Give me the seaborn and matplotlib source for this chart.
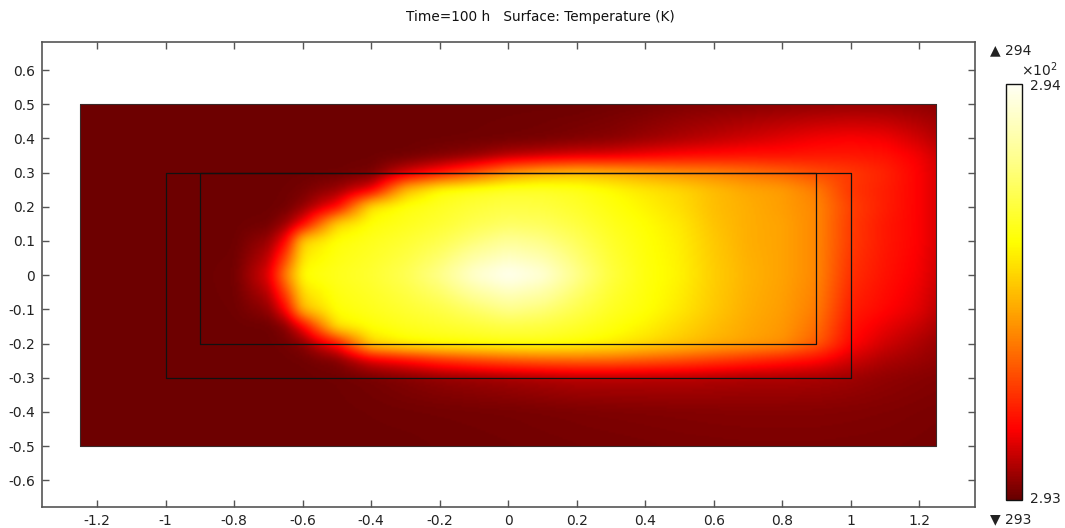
import numpy as np
import matplotlib
matplotlib.use("Agg")
import matplotlib.pyplot as plt
from matplotlib.colors import LinearSegmentedColormap
import seaborn as sns

# Mesh nodes (m)
x_nodes = [-1.25, -1.2, -1.1, -1.0, -0.9, -0.8, -0.7, -0.65, -0.6, -0.5, -0.4, -0.3, -0.2, -0.1,
           0.0, 0.1, 0.2, 0.3, 0.4, 0.5, 0.6, 0.7, 0.8, 0.9, 1.0, 1.1, 1.2, 1.25]
y_nodes = [-0.5, -0.4, -0.3, -0.25, -0.2, -0.15, -0.1, 0.0, 0.1, 0.15, 0.2, 0.25, 0.3, 0.35, 0.4, 0.5]

# Temperature rise above 293 K at each node (K), one row per y node
dT = [
    # y = -0.5
    [0.01, 0.01, 0.01, 0.01, 0.01, 0.01, 0.01, 0.01, 0.01, 0.01, 0.01, 0.01, 0.012, 0.013,
     0.015, 0.017, 0.019, 0.02, 0.022, 0.024, 0.025, 0.026, 0.026, 0.026, 0.025, 0.024, 0.022, 0.02],
    # y = -0.4
    [0.01, 0.01, 0.01, 0.01, 0.01, 0.01, 0.01, 0.01, 0.01, 0.01, 0.012, 0.014, 0.016, 0.018,
     0.02, 0.023, 0.026, 0.029, 0.031, 0.033, 0.035, 0.036, 0.036, 0.036, 0.034, 0.031, 0.027, 0.025],
    # y = -0.3
    [0.01, 0.01, 0.01, 0.01, 0.01, 0.01, 0.01, 0.01, 0.01, 0.012, 0.02, 0.035, 0.05, 0.06,
     0.07, 0.08, 0.09, 0.09, 0.09, 0.09, 0.085, 0.08, 0.08, 0.075, 0.065, 0.05, 0.04, 0.035],
    # y = -0.25
    [0.01, 0.01, 0.01, 0.01, 0.01, 0.01, 0.01, 0.01, 0.012, 0.03, 0.13, 0.18, 0.24, 0.28,
     0.31, 0.33, 0.34, 0.34, 0.32, 0.30, 0.27, 0.24, 0.21, 0.18, 0.12, 0.08, 0.06, 0.05],
    # y = -0.2
    [0.01, 0.01, 0.01, 0.01, 0.01, 0.01, 0.01, 0.015, 0.04, 0.2, 0.55, 0.61, 0.63, 0.64,
     0.65, 0.65, 0.63, 0.6, 0.56, 0.52, 0.48, 0.45, 0.42, 0.33, 0.18, 0.12, 0.08, 0.06],
    # y = -0.15
    [0.01, 0.01, 0.01, 0.01, 0.01, 0.01, 0.01, 0.04, 0.17, 0.58, 0.63, 0.66, 0.68, 0.7,
     0.72, 0.71, 0.68, 0.64, 0.6, 0.55, 0.5, 0.46, 0.43, 0.36, 0.2, 0.15, 0.11, 0.08],
    # y = -0.1
    [0.01, 0.01, 0.01, 0.01, 0.01, 0.012, 0.05, 0.18, 0.5, 0.63, 0.66, 0.69, 0.72, 0.77,
     0.82, 0.79, 0.73, 0.67, 0.63, 0.58, 0.52, 0.47, 0.44, 0.38, 0.22, 0.18, 0.14, 0.1],
    # y = 0
    [0.01, 0.01, 0.01, 0.01, 0.01, 0.015, 0.14, 0.4, 0.63, 0.66, 0.69, 0.74, 0.82, 0.94,
     1.0, 0.95, 0.82, 0.71, 0.64, 0.6, 0.53, 0.48, 0.45, 0.4, 0.25, 0.2, 0.16, 0.12],
    # y = 0.1
    [0.01, 0.01, 0.01, 0.01, 0.01, 0.01, 0.06, 0.18, 0.54, 0.63, 0.66, 0.69, 0.73, 0.79,
     0.84, 0.81, 0.75, 0.68, 0.63, 0.59, 0.52, 0.47, 0.45, 0.4, 0.27, 0.21, 0.17, 0.13],
    # y = 0.15
    [0.01, 0.01, 0.01, 0.01, 0.01, 0.01, 0.015, 0.06, 0.17, 0.55, 0.63, 0.66, 0.69, 0.73,
     0.76, 0.75, 0.71, 0.66, 0.62, 0.58, 0.51, 0.47, 0.45, 0.4, 0.27, 0.21, 0.17, 0.13],
    # y = 0.2
    [0.01, 0.01, 0.01, 0.01, 0.01, 0.01, 0.01, 0.015, 0.05, 0.18, 0.58, 0.64, 0.67, 0.7,
     0.72, 0.71, 0.68, 0.64, 0.6, 0.56, 0.5, 0.47, 0.44, 0.4, 0.28, 0.22, 0.17, 0.13],
    # y = 0.25
    [0.01, 0.01, 0.01, 0.01, 0.01, 0.01, 0.01, 0.012, 0.02, 0.06, 0.15, 0.5, 0.63, 0.66,
     0.68, 0.68, 0.66, 0.62, 0.58, 0.55, 0.5, 0.46, 0.44, 0.38, 0.26, 0.22, 0.17, 0.13],
    # y = 0.3
    [0.01, 0.01, 0.01, 0.01, 0.01, 0.01, 0.01, 0.01, 0.01, 0.01, 0.02, 0.12, 0.2, 0.3,
     0.42, 0.48, 0.5, 0.48, 0.45, 0.42, 0.4, 0.37, 0.34, 0.3, 0.27, 0.23, 0.17, 0.13],
    # y = 0.35
    [0.01, 0.01, 0.01, 0.01, 0.01, 0.01, 0.01, 0.01, 0.01, 0.01, 0.01, 0.012, 0.03, 0.05,
     0.09, 0.11, 0.13, 0.14, 0.16, 0.18, 0.19, 0.2, 0.2, 0.21, 0.21, 0.2, 0.16, 0.12],
    # y = 0.4
    [0.01, 0.01, 0.01, 0.01, 0.01, 0.01, 0.01, 0.01, 0.01, 0.01, 0.01, 0.01, 0.01, 0.012,
     0.015, 0.02, 0.03, 0.04, 0.06, 0.08, 0.1, 0.12, 0.14, 0.16, 0.17, 0.16, 0.12, 0.09],
    # y = 0.5
    [0.01, 0.01, 0.01, 0.01, 0.01, 0.01, 0.01, 0.01, 0.01, 0.01, 0.01, 0.01, 0.01, 0.01,
     0.01, 0.01, 0.01, 0.015, 0.02, 0.03, 0.035, 0.04, 0.045, 0.05, 0.055, 0.055, 0.05, 0.045],
]
T_base = 293.0  # K
T_min, T_max = 293.0, 294.0

# Geometry outlines: (x0, x1, y0, y1)
domain = (-1.25, 1.25, -0.5, 0.5)
outer_block = (-1.0, 1.0, -0.3, 0.3)
inner_block = (-0.9, 0.9, -0.2, 0.3)

x_ticks = [-1.2, -1.0, -0.8, -0.6, -0.4, -0.2, 0.0, 0.2, 0.4, 0.6, 0.8, 1.0, 1.2]
y_ticks = [-0.6, -0.5, -0.4, -0.3, -0.2, -0.1, 0.0, 0.1, 0.2, 0.3, 0.4, 0.5, 0.6]

sns.set_theme(style="ticks")
plt.rcParams["font.family"] = ["DejaVu Sans"]
plt.rcParams["axes.unicode_minus"] = False

thermal = LinearSegmentedColormap.from_list(
    "thermal_light",
    [(0.0, "#660000"), (0.17, "#ff0000"), (0.40, "#ff8800"),
     (0.62, "#ffff00"), (0.82, "#ffff8c"), (1.0, "#fffff4")])


def render_field(xn, yn, values, step=0.005, sigma=0.015):
    """Bilinear resample of the nodal field on a fine grid, lightly smoothed
    so the surface shades continuously between mesh nodes."""
    xn, yn, v = np.asarray(xn), np.asarray(yn), np.asarray(values)
    xf = np.arange(xn[0], xn[-1] + step / 2, step)
    yf = np.arange(yn[0], yn[-1] + step / 2, step)
    rows = np.array([np.interp(xf, xn, r) for r in v])
    fine = np.array([np.interp(yf, yn, c) for c in rows.T]).T
    half = int(3 * sigma / step)
    k = np.exp(-0.5 * (np.arange(-half, half + 1) * step / sigma) ** 2)
    k /= k.sum()
    pad = np.pad(fine, half, mode="edge")
    pad = np.apply_along_axis(lambda a: np.convolve(a, k, mode="same"), 1, pad)
    pad = np.apply_along_axis(lambda a: np.convolve(a, k, mode="same"), 0, pad)
    return pad[half:-half, half:-half]


T = T_base + np.array(dT)
T_fine = render_field(x_nodes, y_nodes, T)

fig = plt.figure(figsize=(10.65, 5.28), dpi=100)
ax = fig.add_axes([0.0394, 0.0398, 0.8761, 0.8807])

img = ax.imshow(T_fine, origin="lower", cmap=thermal, vmin=T_min, vmax=T_max,
                extent=(x_nodes[0], x_nodes[-1], y_nodes[0], y_nodes[-1]),
                interpolation="bilinear", aspect="auto")


def outline(box, lw, color):
    x0, x1, y0, y1 = box
    ax.plot([x0, x1, x1, x0, x0], [y0, y0, y1, y1, y0], color=color, lw=lw)


outline(domain, 0.8, "#3a2a2a")
outline(outer_block, 0.9, "#111111")
outline(inner_block, 0.9, "#111111")

ax.set_xlim(-1.361, 1.363)
ax.set_ylim(-0.678, 0.682)
ax.set_xticks(x_ticks)
ax.set_yticks(y_ticks)
ax.set_xticklabels([f"{v:g}" for v in x_ticks])
ax.set_yticklabels([f"{v:g}" for v in y_ticks])
ax.tick_params(direction="in", length=5, width=1, color="#555555",
               labelsize=10, labelcolor="#222222", top=True, right=True, pad=5)
for s in ax.spines.values():
    s.set_color("#555555")
    s.set_linewidth(1.2)

fig.text(540 / 1065, 1 - 17 / 528, "Time=100 h   Surface: Temperature (K)",
         ha="center", va="center", fontsize=9.8, color="#111111")

# Colour legend
cax = fig.add_axes([1006 / 1065, 1 - 500 / 528, 16 / 1065, 416 / 528])
cb = fig.colorbar(img, cax=cax)
cb.set_ticks([])
cb.outline.set_edgecolor("#111111")
cb.outline.set_linewidth(1.0)
fig.text(1030 / 1065, 1 - 86 / 528, f"{T_max / 100:.2f}", ha="left", va="center",
         fontsize=10, color="#222222")
fig.text(1030 / 1065, 1 - 499 / 528, f"{T_min / 100:.2f}", ha="left", va="center",
         fontsize=10, color="#222222")
fig.text(1021 / 1065, 1 - 70 / 528, r"×10$^2$", ha="left", va="center",
         fontsize=10, color="#222222")
fig.text(990 / 1065, 1 - 50 / 528, f"▲ {T.max():.0f}", ha="left", va="center",
         fontsize=10, color="#222222")
fig.text(990 / 1065, 1 - 519 / 528, f"▼ {T.min():.0f}", ha="left", va="center",
         fontsize=10, color="#222222")

fig.savefig("out.png", dpi=100)
